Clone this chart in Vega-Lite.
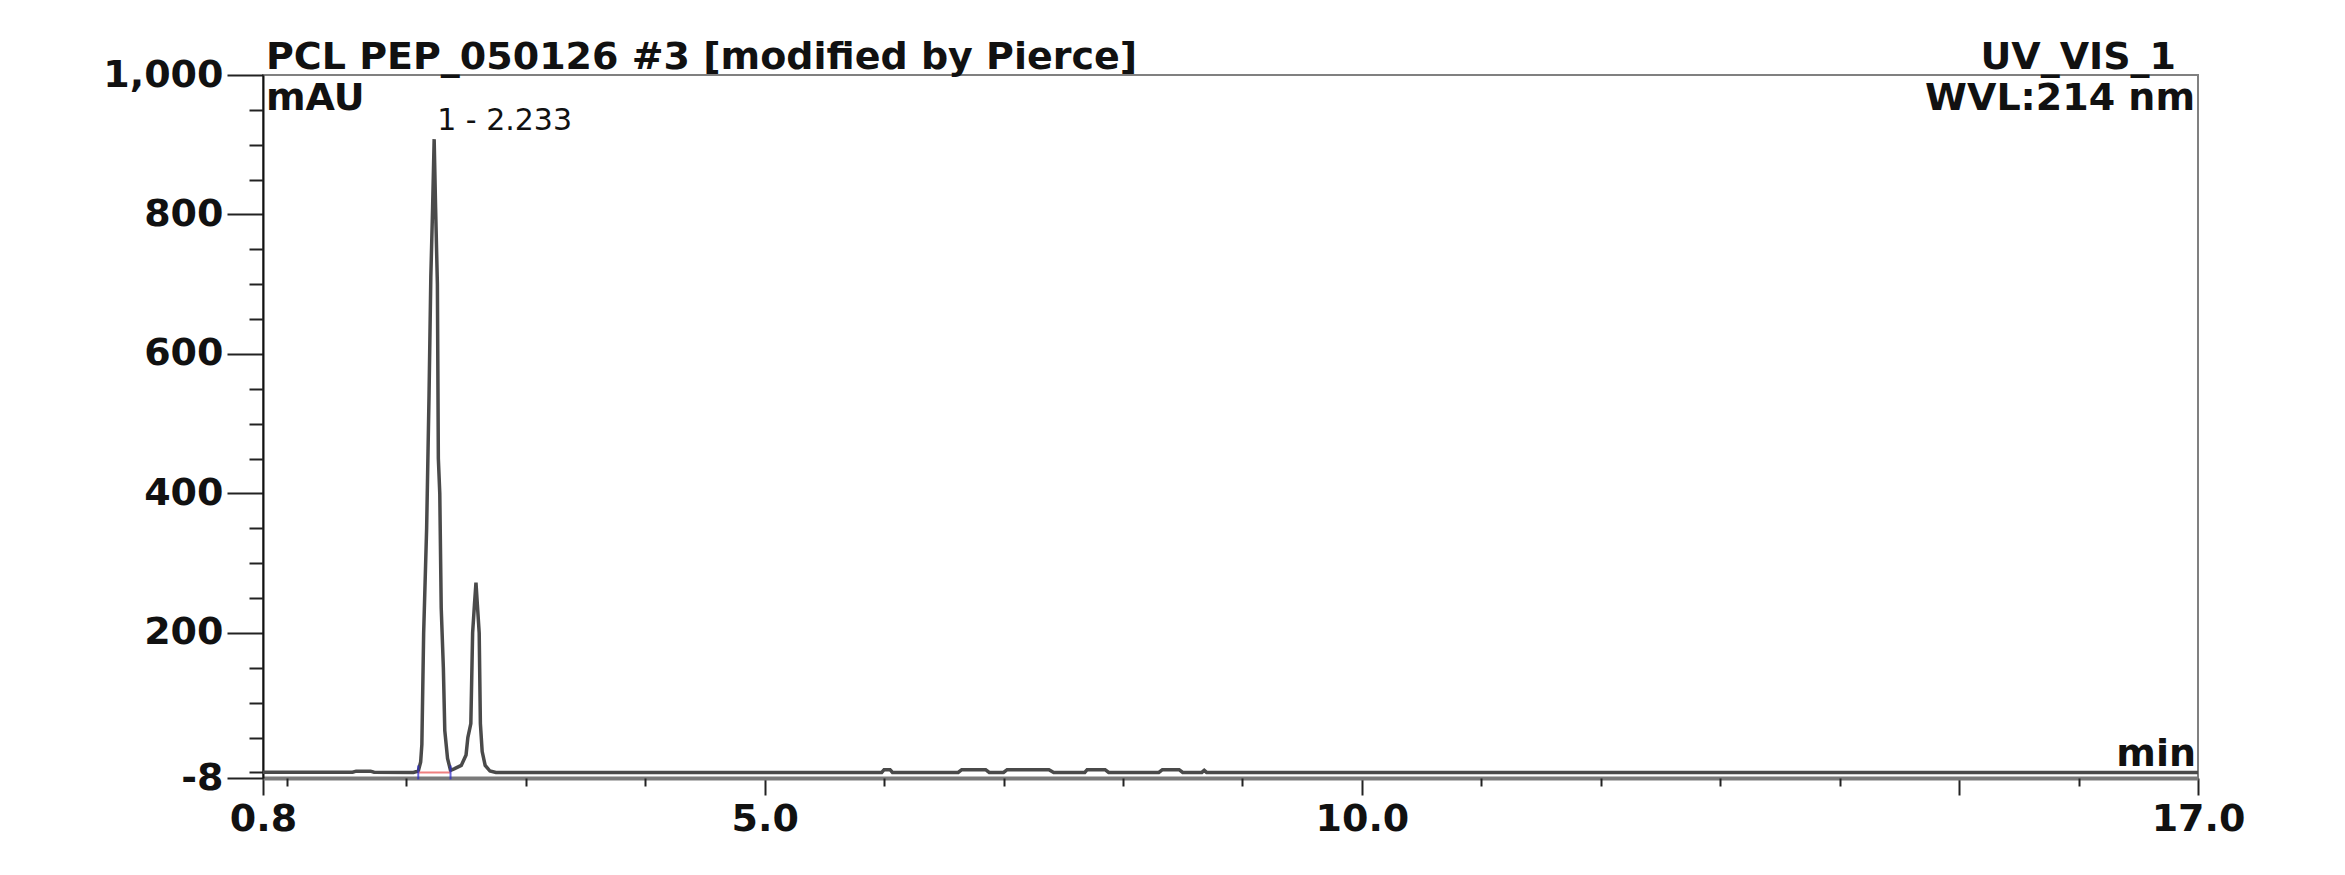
{
  "$schema": "https://vega.github.io/schema/vega-lite/v6.json",
  "width": 1935,
  "height": 703,
  "autosize": {"type": "none"},
  "padding": {"left": 263, "top": 75, "right": 147, "bottom": 97},
  "background": "white",
  "config": {
    "font": "DejaVu Sans",
    "view": {"stroke": "#808080", "strokeWidth": 2},
    "axis": {"grid": false, "title": null, "labelFont": "DejaVu Sans", "labelFontWeight": "bold", "labelColor": "#111", "tickColor": "#222", "labelFontSize": 38}
  },
  "datasets": {
    "chrom": [
      {"t": 0.8, "v": 0.3}, {"t": 1.55, "v": 0.3}, {"t": 1.58, "v": 1.8}, {"t": 1.7, "v": 1.8}, {"t": 1.73, "v": 0.3},
      {"t": 2.06, "v": 0}, {"t": 2.1, "v": 2}, {"t": 2.12, "v": 15}, {"t": 2.13, "v": 40}, {"t": 2.145, "v": 200},
      {"t": 2.17, "v": 350}, {"t": 2.19, "v": 540}, {"t": 2.205, "v": 710}, {"t": 2.22, "v": 810}, {"t": 2.233, "v": 908},
      {"t": 2.245, "v": 810}, {"t": 2.26, "v": 700}, {"t": 2.268, "v": 450}, {"t": 2.28, "v": 400}, {"t": 2.292, "v": 236},
      {"t": 2.31, "v": 150}, {"t": 2.322, "v": 60}, {"t": 2.345, "v": 20}, {"t": 2.37, "v": 3},
      {"t": 2.4, "v": 5}, {"t": 2.46, "v": 10}, {"t": 2.5, "v": 25}, {"t": 2.515, "v": 50}, {"t": 2.54, "v": 70},
      {"t": 2.555, "v": 200}, {"t": 2.57, "v": 240}, {"t": 2.583, "v": 272}, {"t": 2.595, "v": 240}, {"t": 2.61, "v": 200},
      {"t": 2.62, "v": 70}, {"t": 2.635, "v": 30}, {"t": 2.66, "v": 10}, {"t": 2.7, "v": 2}, {"t": 2.75, "v": 0},
      {"t": 5.98, "v": 0}, {"t": 6.0, "v": 4}, {"t": 6.05, "v": 4}, {"t": 6.07, "v": 0},
      {"t": 6.62, "v": 0}, {"t": 6.65, "v": 4}, {"t": 6.85, "v": 4}, {"t": 6.88, "v": 0},
      {"t": 7.0, "v": 0}, {"t": 7.03, "v": 4}, {"t": 7.38, "v": 4}, {"t": 7.42, "v": 0},
      {"t": 7.68, "v": 0}, {"t": 7.7, "v": 4}, {"t": 7.85, "v": 4}, {"t": 7.88, "v": 0},
      {"t": 8.3, "v": 0}, {"t": 8.33, "v": 4}, {"t": 8.47, "v": 4}, {"t": 8.5, "v": 0},
      {"t": 8.66, "v": 0}, {"t": 8.68, "v": 3}, {"t": 8.7, "v": 0},
      {"t": 17.0, "v": 0}
    ],
    "integration": [
      {"t": 2.1, "v": 0}, {"t": 2.37, "v": 0}
    ],
    "one": [{}]
  },
  "layer": [
    {
      "data": {"name": "chrom"},
      "mark": {"type": "line", "color": "#4a4a4a", "strokeWidth": 3.5, "clip": true},
      "encoding": {
        "x": {"field": "t", "type": "quantitative",
          "scale": {"domain": [0.8, 17], "nice": false, "zero": false},
          "axis": {"orient": "bottom", "values": [0.8, 5, 10, 15, 17], "labelExpr": "datum.value == 15 ? '' : format(datum.value, '.1f')",
            "tickSize": 17, "tickWidth": 2, "labelPadding": 5, "domainColor": "#7a7a7a", "domainWidth": 4, "labelFlush": false}},
        "y": {"field": "v", "type": "quantitative",
          "scale": {"domain": [-8, 1000], "nice": false, "zero": false},
          "axis": {"orient": "left", "values": [1000, 800, 600, 400, 200, -8], "labelExpr": "datum.value == -8 ? '-8' : format(datum.value, ',')",
            "tickSize": 36, "tickWidth": 2, "labelPadding": 4, "domainColor": "#111", "domainWidth": 2, "labelBaseline": "middle"}}
      }
    },
    {
      "data": {"name": "integration"},
      "mark": {"type": "line", "color": "#f08080", "strokeWidth": 2},
      "encoding": {
        "x": {"field": "t", "type": "quantitative",
          "axis": {"orient": "bottom", "values": [1,2,3,4,6,7,8,9,11,12,13,14,16], "labels": false, "domain": false, "tickSize": 8, "tickWidth": 2}},
        "y": {"field": "v", "type": "quantitative",
          "axis": {"orient": "left", "values": [0,50,100,150,250,300,350,450,500,550,650,700,750,850,900,950], "labels": false, "domain": false, "tickSize": 14, "tickWidth": 2}}
      }
    },
    {
      "data": {"name": "integration"},
      "mark": {"type": "tick", "orient": "vertical", "color": "#2a2ad0", "size": 14, "thickness": 2},
      "encoding": {
        "x": {"field": "t", "type": "quantitative", "axis": null},
        "y": {"field": "v", "type": "quantitative", "axis": null}
      }
    },
    {
      "data": {"name": "one"},
      "mark": {"type": "text", "text": "PCL PEP_050126 #3 [modified by Pierce]", "align": "left", "baseline": "alphabetic", "dx": 3, "dy": -6, "fontSize": 38, "fontWeight": "bold", "color": "#111"},
      "encoding": {"x": {"datum": 0.8, "type": "quantitative", "axis": null}, "y": {"datum": 1000, "type": "quantitative", "axis": null}}
    },
    {
      "data": {"name": "one"},
      "mark": {"type": "text", "text": "UV_VIS_1", "align": "right", "baseline": "alphabetic", "dx": -22, "dy": -6, "fontSize": 38, "fontWeight": "bold", "color": "#111"},
      "encoding": {"x": {"datum": 17, "type": "quantitative", "axis": null}, "y": {"datum": 1000, "type": "quantitative", "axis": null}}
    },
    {
      "data": {"name": "one"},
      "mark": {"type": "text", "text": "mAU", "align": "left", "baseline": "top", "dx": 3, "dy": 5, "fontSize": 38, "fontWeight": "bold", "color": "#111"},
      "encoding": {"x": {"datum": 0.8, "type": "quantitative", "axis": null}, "y": {"datum": 1000, "type": "quantitative", "axis": null}}
    },
    {
      "data": {"name": "one"},
      "mark": {"type": "text", "text": "WVL:214 nm", "align": "right", "baseline": "top", "dx": -3, "dy": 5, "fontSize": 38, "fontWeight": "bold", "color": "#111"},
      "encoding": {"x": {"datum": 17, "type": "quantitative", "axis": null}, "y": {"datum": 1000, "type": "quantitative", "axis": null}}
    },
    {
      "data": {"name": "one"},
      "mark": {"type": "text", "text": "1 - 2.233", "align": "left", "baseline": "alphabetic", "dx": 3, "fontSize": 30, "color": "#111"},
      "encoding": {"x": {"datum": 2.233, "type": "quantitative", "axis": null}, "y": {"datum": 921, "type": "quantitative", "axis": null}}
    },
    {
      "data": {"name": "one"},
      "mark": {"type": "text", "text": "min", "align": "right", "baseline": "alphabetic", "dx": -2, "dy": -12, "fontSize": 38, "fontWeight": "bold", "color": "#111"},
      "encoding": {"x": {"datum": 17, "type": "quantitative", "axis": null}, "y": {"datum": -8, "type": "quantitative", "axis": null}}
    }
  ],
  "resolve": {"axis": {"x": "independent", "y": "independent"}}
}
